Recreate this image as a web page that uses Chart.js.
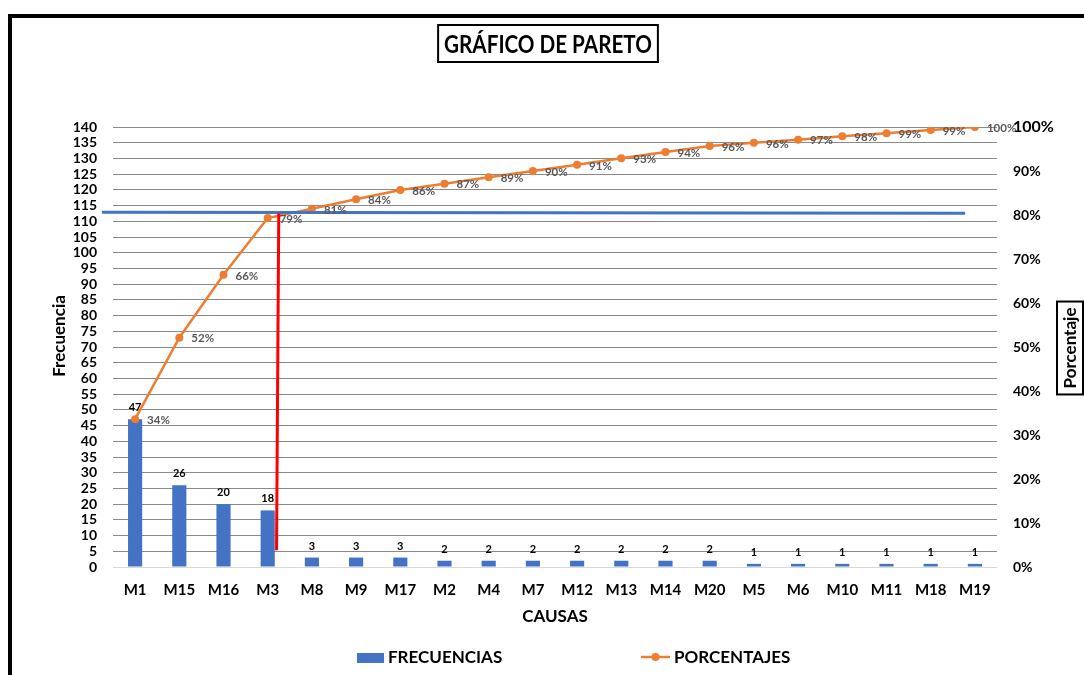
<!DOCTYPE html>
<html>
<head>
<meta charset="utf-8">
<title>Gráfico de Pareto</title>
<script src="https://cdn.jsdelivr.net/npm/chart.js@4.4.1/dist/chart.umd.min.js"></script>
<style>
  html, body { margin: 0; padding: 0; background: #fff; }
  #wrap { width: 1084px; height: 675px; position: relative; }
</style>
</head>
<body>
<div id="wrap"><canvas id="pareto"></canvas></div>
<script>
// Datos
const causas = ['M1', 'M15', 'M16', 'M3', 'M8', 'M9', 'M17', 'M2', 'M4', 'M7',
                'M12', 'M13', 'M14', 'M20', 'M5', 'M6', 'M10', 'M11', 'M18', 'M19'];
const frecuencias = [47, 26, 20, 18, 3, 3, 3, 2, 2, 2, 2, 2, 2, 2, 1, 1, 1, 1, 1, 1];
const porcentajes = [33.6, 52.1, 66.4, 79.3, 81.4, 83.6, 85.7, 87.1, 88.6, 90.0,
                     91.4, 92.9, 94.3, 95.7, 96.4, 97.1, 97.9, 98.6, 99.3, 100];
const frecTicks = { min: 0, max: 140, step: 5 };
const pctTicks = { min: 0, max: 100, step: 10 };

const FONT = 'Lato, "Open Sans", sans-serif';
const BLUE = '#4472C4';
const ORANGE = '#ED7D31';

// marco, título, títulos de ejes y leyenda
const decoPlugin = {
  id: 'deco',
  beforeDraw(chart) {
    const c = chart.ctx;
    c.save();
    c.fillStyle = '#fff';
    c.fillRect(0, 0, chart.width, chart.height);
    c.strokeStyle = '#000';
    c.lineWidth = 4;
    c.beginPath();
    c.moveTo(10, chart.height + 5);
    c.lineTo(10, 16);
    c.lineTo(chart.width + 5, 16);
    c.stroke();
    c.restore();
  },
  afterDraw(chart) {
    const c = chart.ctx;
    const area = chart.chartArea;
    const mid = 548;
    c.save();
    c.fillStyle = '#000';
    c.textAlign = 'center';
    c.textBaseline = 'middle';

    // título con recuadro (letra algo estrecha)
    c.font = 'bold 24px ' + FONT;
    const tw = c.measureText('GRÁFICO DE PARETO').width * 0.86;
    c.lineWidth = 2;
    c.strokeStyle = '#000';
    c.strokeRect(mid - tw / 2 - 6, 25, tw + 12, 37);
    c.save();
    c.translate(mid, 45);
    c.scale(0.86, 1);
    c.fillText('GRÁFICO DE PARETO', 0, 0);
    c.restore();

    // eje x
    c.font = 'bold 17px ' + FONT;
    c.fillText('CAUSAS', (area.left + area.right) / 2, 617);

    // eje izquierdo
    c.save();
    c.translate(60, 336);
    c.rotate(-Math.PI / 2);
    c.fillText('Frecuencia', 0, 0);
    c.restore();

    // eje derecho con recuadro
    c.save();
    c.translate(1070, 348);
    c.rotate(-Math.PI / 2);
    const pw = c.measureText('Porcentaje').width;
    c.strokeRect(-pw / 2 - 6, -13, pw + 12, 26);
    c.fillText('Porcentaje', 0, 1);
    c.restore();

    // leyenda
    c.textAlign = 'left';
    c.fillStyle = BLUE;
    c.fillRect(357, 653, 27, 10);
    c.fillStyle = '#000';
    c.fillText(chart.data.datasets[0].label, 388, 658);
    c.strokeStyle = ORANGE;
    c.lineWidth = 2.5;
    c.beginPath();
    c.moveTo(641, 657);
    c.lineTo(670, 657);
    c.stroke();
    c.fillStyle = ORANGE;
    c.beginPath();
    c.arc(655.5, 657, 4, 0, Math.PI * 2);
    c.fill();
    c.fillStyle = '#000';
    c.fillText(chart.data.datasets[1].label, 674, 658);
    c.restore();
  }
};

// línea del 80 % y corte vertical, más etiquetas de datos
const marcasPlugin = {
  id: 'marcas',
  afterDatasetsDraw(chart) {
    const c = chart.ctx;
    const x = chart.scales.x, y = chart.scales.y, y2 = chart.scales.y2;
    c.save();
    // línea horizontal azul (80 %)
    c.strokeStyle = BLUE;
    c.lineWidth = 3;
    c.beginPath();
    c.moveTo(x.getPixelForValue(-0.75), y2.getPixelForValue(80.6));
    c.lineTo(x.getPixelForValue(18.78), y2.getPixelForValue(80.4));
    c.stroke();
    // línea vertical roja
    c.strokeStyle = '#FF0000';
    c.beginPath();
    c.moveTo(x.getPixelForValue(3.25), y2.getPixelForValue(80.4));
    c.lineTo(x.getPixelForValue(3.2), y.getPixelForValue(5.3));
    c.stroke();

    // etiquetas de barras
    c.font = 'bold 11px ' + FONT;
    c.fillStyle = '#000';
    c.textAlign = 'center';
    c.textBaseline = 'bottom';
    chart.getDatasetMeta(0).data.forEach((bar, i) => {
      c.fillText(frecuencias[i], bar.x, bar.y - 6);
    });
    // etiquetas de porcentajes
    c.font = 'bold 11.5px ' + FONT;
    c.fillStyle = '#595959';
    c.textAlign = 'left';
    c.textBaseline = 'middle';
    chart.getDatasetMeta(1).data.forEach((pt, i) => {
      c.fillText(Math.round(porcentajes[i]) + '%', pt.x + 12, pt.y + 1);
    });
    c.restore();
  }
};

new Chart(document.getElementById('pareto'), {
  data: {
    labels: causas,
    datasets: [
      {
        type: 'bar',
        label: 'FRECUENCIAS',
        data: frecuencias,
        backgroundColor: BLUE,
        yAxisID: 'y',
        barPercentage: 0.32,
        categoryPercentage: 1,
        order: 2
      },
      {
        type: 'line',
        label: 'PORCENTAJES',
        data: porcentajes,
        borderColor: ORANGE,
        backgroundColor: ORANGE,
        borderWidth: 2.5,
        pointRadius: 4,
        pointBackgroundColor: ORANGE,
        pointBorderWidth: 0,
        tension: 0,
        yAxisID: 'y2',
        order: 1
      }
    ]
  },
  options: {
    responsive: true,
    maintainAspectRatio: false,
    animation: false,
    layout: { padding: { top: 127, left: 0, right: 0, bottom: 0 } },
    plugins: {
      legend: { display: false },
      tooltip: { enabled: false }
    },
    scales: {
      x: {
        grid: { display: false, drawTicks: false },
        border: { display: false },
        ticks: { color: '#000', font: { family: FONT, size: 15, weight: 'bold' }, padding: 14, maxRotation: 0, autoSkip: false },
        afterFit: s => { s.height = 108; }
      },
      y: {
        position: 'left',
        min: frecTicks.min,
        max: frecTicks.max,
        ticks: { stepSize: frecTicks.step, autoSkip: false, color: '#000', padding: 16,
                 font: { family: FONT, size: 14, weight: 'bold' } },
        grid: { drawTicks: false, lineWidth: 1,
                color: ctx => ctx.tick && ctx.tick.value === 0 ? '#d9d9d9' : '#8a8a8a' },
        border: { display: false },
        afterFit: s => { s.width = 113; }
      },
      y2: {
        position: 'right',
        min: pctTicks.min,
        max: pctTicks.max,
        ticks: { stepSize: pctTicks.step, autoSkip: false, color: '#000', padding: 16,
                 callback: v => v + '%',
                 font: ctx => ({ family: FONT, size: ctx.tick && ctx.tick.value === 100 ? 16 : 14, weight: 'bold' }) },
        grid: { display: false, drawTicks: false },
        border: { display: false },
        afterFit: s => { s.width = 87; }
      }
    }
  },
  plugins: [decoPlugin, marcasPlugin]
});
</script>
</body>
</html>
